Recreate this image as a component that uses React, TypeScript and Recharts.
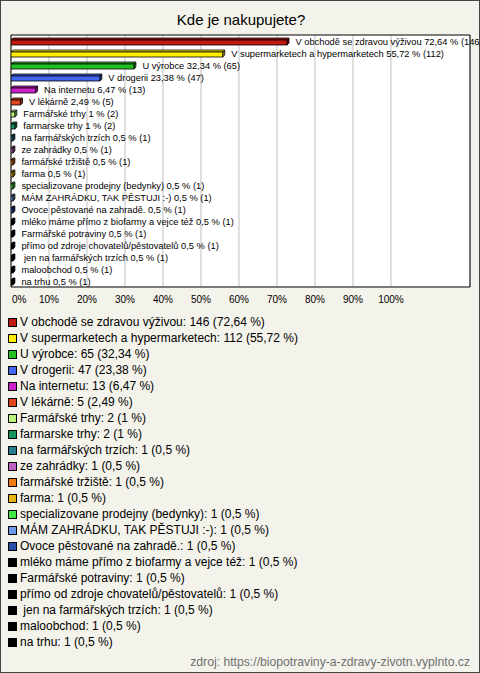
import React from 'react';
import { BarChart, Bar, XAxis, YAxis, CartesianGrid, Cell, LabelList, ReferenceArea } from 'recharts';

const categories = [
  'V obchodě se zdravou výživou',
  'V supermarketech a hypermarketech',
  'U výrobce',
  'V drogerii',
  'Na internetu',
  'V lékárně',
  'Farmářské trhy',
  'farmarske trhy',
  'na farmářských trzích',
  'ze zahrádky',
  'farmářské tržiště',
  'farma',
  'specializovane prodejny (bedynky)',
  'MÁM ZAHRÁDKU, TAK PĚSTUJI :-)',
  'Ovoce pěstované na zahradě.',
  'mléko máme přímo z biofarmy a vejce též',
  'Farmářské potraviny',
  'přímo od zdroje chovatelů/pěstovatelů',
  ' jen na farmářských trzích',
  'maloobchod',
  'na trhu',
];

const percents = [72.64, 55.72, 32.34, 23.38, 6.47, 2.49, 1, 1, 0.5, 0.5, 0.5, 0.5, 0.5, 0.5, 0.5, 0.5, 0.5, 0.5, 0.5, 0.5, 0.5];
const counts = [146, 112, 65, 47, 13, 5, 2, 2, 1, 1, 1, 1, 1, 1, 1, 1, 1, 1, 1, 1, 1];

const colors = [
  '#c01a10', '#ffee00', '#22c022', '#4466ee', '#cc22cc', '#e0441a', '#b8f57a', '#17945a',
  '#2a7b8c', '#c060c0', '#ee7a10', '#e8b410', '#44e844', '#6b9be8', '#2b4ea8',
  '#000000', '#000000', '#000000', '#000000', '#000000', '#000000',
];

const xTicks = [0, 10, 20, 30, 40, 50, 60, 70, 80, 90, 100];
const X_MAX = 120.8;

const title = 'Kde je nakupujete?';
const source = 'zdroj: https://biopotraviny-a-zdravy-zivotn.vyplnto.cz';

const fmt = (v: number) => String(v).replace('.', ',');

const data = categories.map((name, i) => ({
  name,
  value: percents[i],
  count: counts[i],
  label: `${name} ${fmt(percents[i])} % (${counts[i]})`,
  legend: `${name}: ${counts[i]} (${fmt(percents[i])} %)`,
}));

const FONT = "Arial, 'Liberation Sans', sans-serif";

const Bar3D = (props: any) => {
  const { x, y, width, height, fill } = props;
  const d = 2;
  const w = Math.max(width, 1);
  return (
    <g>
      <polygon
        points={`${x},${y + d} ${x + d},${y} ${x + w + d},${y} ${x + w},${y + d}`}
        fill={fill}
        stroke="#000"
        strokeWidth={0.8}
      />
      <polygon
        points={`${x + w},${y + d} ${x + w + d},${y} ${x + w + d},${y + height - d} ${x + w},${y + height}`}
        fill={fill}
        stroke="#000"
        strokeWidth={0.8}
      />
      <polygon
        points={`${x + w},${y + d} ${x + w + d},${y} ${x + w + d},${y + height - d} ${x + w},${y + height}`}
        fill="#000"
        fillOpacity={0.35}
      />
      <rect x={x} y={y + d} width={w} height={height - d} fill={fill} stroke="#000" strokeWidth={0.8} />
    </g>
  );
};

const BarLabel = (props: any) => {
  const { x, y, width, height, index } = props;
  return (
    <text
      x={x + width + 8.5}
      y={y + height / 2 + 0.5}
      fontSize={9.3}
      fontFamily={FONT}
      fill="#000"
      dominantBaseline="central"
      style={{ whiteSpace: 'pre' }}
    >
      {data[index].label}
    </text>
  );
};

const XTick = (props: any) => {
  const { x, y, payload } = props;
  const anchor = payload.value === 0 ? 'start' : 'middle';
  return (
    <text x={payload.value === 0 ? x + 1 : x} y={y} fontSize={10} fontFamily={FONT} fill="#000" textAnchor={anchor} dy="0.71em">
      {`${payload.value}%`}
    </text>
  );
};

export default function App() {
  return (
    <div
      style={{
        position: 'absolute',
        left: 0,
        top: 0,
        width: 480,
        height: 673,
        background: '#f4f3eb',
        border: '1px solid #444',
        boxSizing: 'border-box',
        fontFamily: FONT,
        overflow: 'hidden',
      }}
    >
      <div
        style={{
          position: 'absolute',
          left: 0,
          top: 10,
          width: 480,
          textAlign: 'center',
          fontSize: 15,
          lineHeight: '18px',
          color: '#000',
        }}
      >
        {title}
      </div>
      <div style={{ position: 'absolute', left: -1, top: -1 }}>
        <BarChart
          width={480}
          height={310}
          data={data}
          layout="vertical"
          margin={{ top: 35, right: 10, left: 11, bottom: 0 }}
          barCategoryGap={0}
        >
          <CartesianGrid horizontal={false} vertical={true} stroke="#c0c0c0" fill="#ffffff" />
          <XAxis
            type="number"
            domain={[0, X_MAX]}
            ticks={xTicks}
            axisLine={false}
            tickLine={false}
            tickSize={0}
            tickMargin={9}
            height={23}
            tick={<XTick />}
            interval={0}
            allowDataOverflow
          />
          <YAxis type="category" dataKey="name" hide width={0} />
          <ReferenceArea x1={0} x2={X_MAX} fill="none" stroke="#000" strokeWidth={1} ifOverflow="visible" />
          <Bar dataKey="value" barSize={7} isAnimationActive={false} shape={<Bar3D />}>
            {data.map((d, i) => (
              <Cell key={d.name + i} fill={colors[i]} />
            ))}
            <LabelList dataKey="label" content={<BarLabel />} />
          </Bar>
        </BarChart>
      </div>
      <div style={{ position: 'absolute', left: 7, top: 313 }}>
        {data.map((d, i) => (
          <div
            key={d.name + i}
            style={{ display: 'flex', alignItems: 'center', height: 16, fontSize: 12, color: '#000', whiteSpace: 'pre' }}
          >
            <span
              style={{
                display: 'inline-block',
                width: 9,
                height: 9,
                boxSizing: 'border-box',
                background: colors[i],
                border: '1px solid #000',
                marginRight: 3,
              }}
            />
            <span>{d.legend}</span>
          </div>
        ))}
      </div>
      <div
        style={{
          position: 'absolute',
          right: 9,
          top: 654,
          fontSize: 12.2,
          color: '#707070',
          whiteSpace: 'nowrap',
        }}
      >
        {source}
      </div>
    </div>
  );
}
